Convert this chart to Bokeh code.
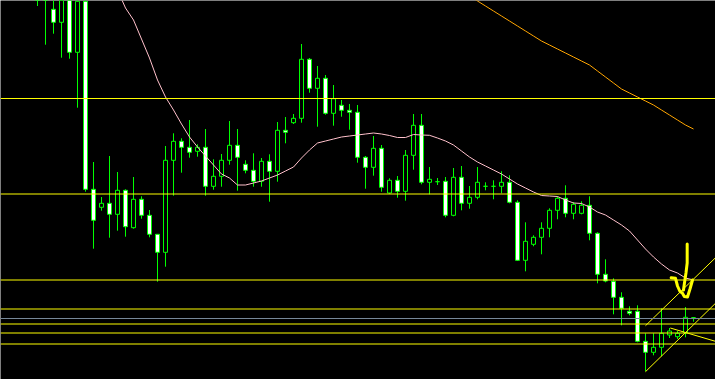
from bokeh.plotting import figure
from bokeh.models import Range1d, Span, ColumnDataSource
from bokeh.embed import file_html
from bokeh.resources import INLINE

# ---- candle data (one candle per bar, oldest first) ----
opens = [420, 420, 390.7, 377.7, 410, 347.7, 398.7, 210.7, 192.7, 196.7,
         185.7, 209.7, 172.3, 200.7, 184.7, 165.7, 147.7, 239.7, 258.7, 252.7,
         248.7, 252.7, 213.7, 223.7, 239.7, 254.7, 235.7, 229.7, 218.7, 238.7,
         228.7, 269.7, 277.3, 281.7, 340.7, 311.7, 321.7, 286.7, 294.7, 289.7,
         287.7, 242.7, 232.7, 251.7, 207, 219.7, 208.7, 244.7, 274.7, 217.7,
         218.3, 218.7, 184.7, 222.7, 196.7, 202.7, 213.7, 213.7, 213.7, 217.7,
         197.7, 139.7, 155.7, 162.7, 171.7, 189.7, 201.7, 186.7, 186.7, 194.7,
         166.7, 125.7, 118.7, 102.7, 88.7, 88.7, 58.7, 47.7, 52.7, 65,
         63.3, 67.3, 82.3]
highs = [435, 425, 405, 412, 415, 399.5, 399.5, 238, 203, 244,
         228, 210.7, 223, 203.7, 190, 165.7, 254, 266.7, 261.7, 280,
         255.7, 271, 240.7, 246, 279, 271, 239.7, 246.7, 242, 245.7,
         278, 283, 286, 356, 342, 334, 325, 315, 300, 296,
         295, 244, 264, 255, 221.7, 224, 250, 286, 286, 233,
         222, 223, 232, 234, 214, 233, 217.7, 219.7, 228.7, 224.7,
         199.7, 177.7, 164.7, 177.7, 191.7, 203.7, 214.7, 198, 198.7, 203.7,
         167.7, 140.7, 121.7, 107.7, 93.7, 94.7, 66.7, 66.7, 91.7, 72,
         69, 93, 82.7]
lows = [394, 355.3, 366.3, 342.3, 341.3, 292.3, 208.3, 151.3, 189.3, 162.3,
        169.3, 163.3, 171.3, 181.3, 162.7, 118.3, 133.3, 204.3, 227.3, 242.3,
        243.3, 204.3, 210.3, 213.3, 235.3, 209.3, 226.7, 213.3, 213.3, 198.3,
        218.3, 256.7, 276, 277.3, 307.3, 273.3, 285.3, 274.3, 283.3, 270.3,
        237.3, 211.3, 224.3, 208.3, 206, 202.3, 199.3, 230.3, 215.7, 205.7,
        215, 182.7, 183.7, 189.7, 191.3, 200.7, 209.7, 200.7, 206.7, 196.7,
        139, 128.7, 153.7, 145.7, 162.7, 180.7, 182.7, 180.7, 185.7, 159.7,
        116.7, 117.7, 85.7, 74.7, 84.7, 57.7, 28.7, 44.7, 43.7, 62,
        61, 62.7, 78.3]
closes = [405, 402, 377.7, 408, 347.7, 398.7, 210.7, 179.7, 196.7, 185.7,
          209.7, 173.3, 200.7, 184.7, 165.7, 147.7, 239.7, 258.7, 252.7, 247.7,
          252.7, 213.7, 223.7, 239.7, 254.7, 242.7, 229.7, 218.7, 238.7, 228.7,
          269.7, 267.7, 281.7, 340.7, 311.7, 321.7, 286.7, 301.3, 289.7, 287.7,
          242.7, 232.7, 251.7, 212.7, 219.7, 208.7, 244.7, 274.7, 217.7, 220.7,
          218.3, 184.7, 222.7, 196.7, 202.7, 217.7, 213.7, 213.7, 217.7, 197.7,
          139.7, 158.7, 162.7, 171.7, 189.7, 201.7, 186.7, 195.7, 194.7, 166.7,
          125.7, 119, 102.7, 91.7, 86.7, 58.7, 47.7, 52.7, 66.7, 69,
          66.7, 82.7, 82.3]

# moving average (pink), starts at bar 9
ma_start = 9
ma_values = [428, 410, 392, 380, 361, 342, 320, 303, 290, 276,
             263, 253, 244, 235, 226, 222, 215, 215, 217, 219,
             222, 225, 229, 233, 242, 250, 257, 259, 261, 263,
             264, 265, 266, 267, 266, 264.5, 262.5, 262.5, 265.5, 265,
             264.7, 262, 259, 255, 249, 243, 238, 234, 230, 226,
             221, 216, 212, 208, 204.5, 204, 203.5, 200, 197, 196.5,
             193, 188, 185, 180, 175, 169, 160, 151, 143, 136,
             130, 127, 122, 120]

# slow line (orange), starts at bar 54
slow_start = 54
slow_values = [404, 399, 394, 389, 384, 379, 374, 369, 364, 359,
               355, 351, 347, 343, 339, 335, 329, 323, 317, 311,
               307, 303, 299, 295, 290, 285, 280, 275, 271]

# horizontal levels
yellow_levels = [301.5, 206, 120, 91, 76, 67, 56]
grey_levels = [81.5]

# trend lines: (x, y) end points in bar index / price
channel_upper = [(76.0, 74.3), (86.0, 152.0)]
channel_lower = [(76.0, 28.3), (86.0, 106.5)]
flat_line = [(79.1, 72.0), (86.0, 55.7)]

# hand-drawn arrow annotation
arrow_v_x = [79.21, 79.75, 80.0, 80.31, 80.6, 80.85, 81.25, 81.56, 81.88]
arrow_v_y = [122.3, 121.7, 114.0, 108.5, 107.0, 103.5, 103.0, 111.0, 120.0]
arrow_stem_x = [81.21, 81.21, 81.06, 80.87, 80.75]
arrow_stem_y = [156.0, 137.0, 127.0, 117.0, 110.0]

GREEN = "#00FF00"
YELLOW = "#FFFF00"

n = len(opens)
xs = list(range(n))
tops = [max(o, c) for o, c in zip(opens, closes)]
bottoms = [min(o, c) for o, c in zip(opens, closes)]
fills = ["white" if c < o else "black" for o, c in zip(opens, closes)]

src = ColumnDataSource(dict(x=xs, high=highs, low=lows, top=tops,
                            bottom=bottoms, fill=fills))

p = figure(width=715, height=379, output_backend="svg", toolbar_location=None,
           x_range=Range1d(-4.625, 84.75), y_range=Range1d(20.5, 399.5),
           x_axis_location=None, y_axis_location=None, min_border=0,
           background_fill_color="black", border_fill_color="black",
           outline_line_color=None)
p.xgrid.visible = False
p.ygrid.visible = False

p.segment(x0="x", y0="low", x1="x", y1="high", source=src,
          line_color=GREEN, line_width=1)
p.vbar(x="x", width=0.5, top="top", bottom="bottom", source=src,
       fill_color="fill", line_color=GREEN, line_width=1)

p.line(list(range(ma_start, ma_start + len(ma_values))), ma_values,
       line_color="#FFC0CB", line_width=1)
p.line(list(range(slow_start, slow_start + len(slow_values))), slow_values,
       line_color="#FFA500", line_width=1)

for lv in yellow_levels:
    p.add_layout(Span(location=lv, dimension="width", line_color=YELLOW,
                      line_width=1))
for lv in grey_levels:
    p.add_layout(Span(location=lv, dimension="width", line_color="#778899",
                      line_width=1))

for seg in (channel_upper, channel_lower, flat_line):
    p.line([seg[0][0], seg[1][0]], [seg[0][1], seg[1][1]],
           line_color=YELLOW, line_width=1)

p.line(arrow_v_x, arrow_v_y, line_color=YELLOW, line_width=3,
       line_join="round", line_cap="round")
p.line(arrow_stem_x, arrow_stem_y, line_color=YELLOW, line_width=3,
       line_join="round", line_cap="round")

open("out.html", "w").write(file_html(p, INLINE))
